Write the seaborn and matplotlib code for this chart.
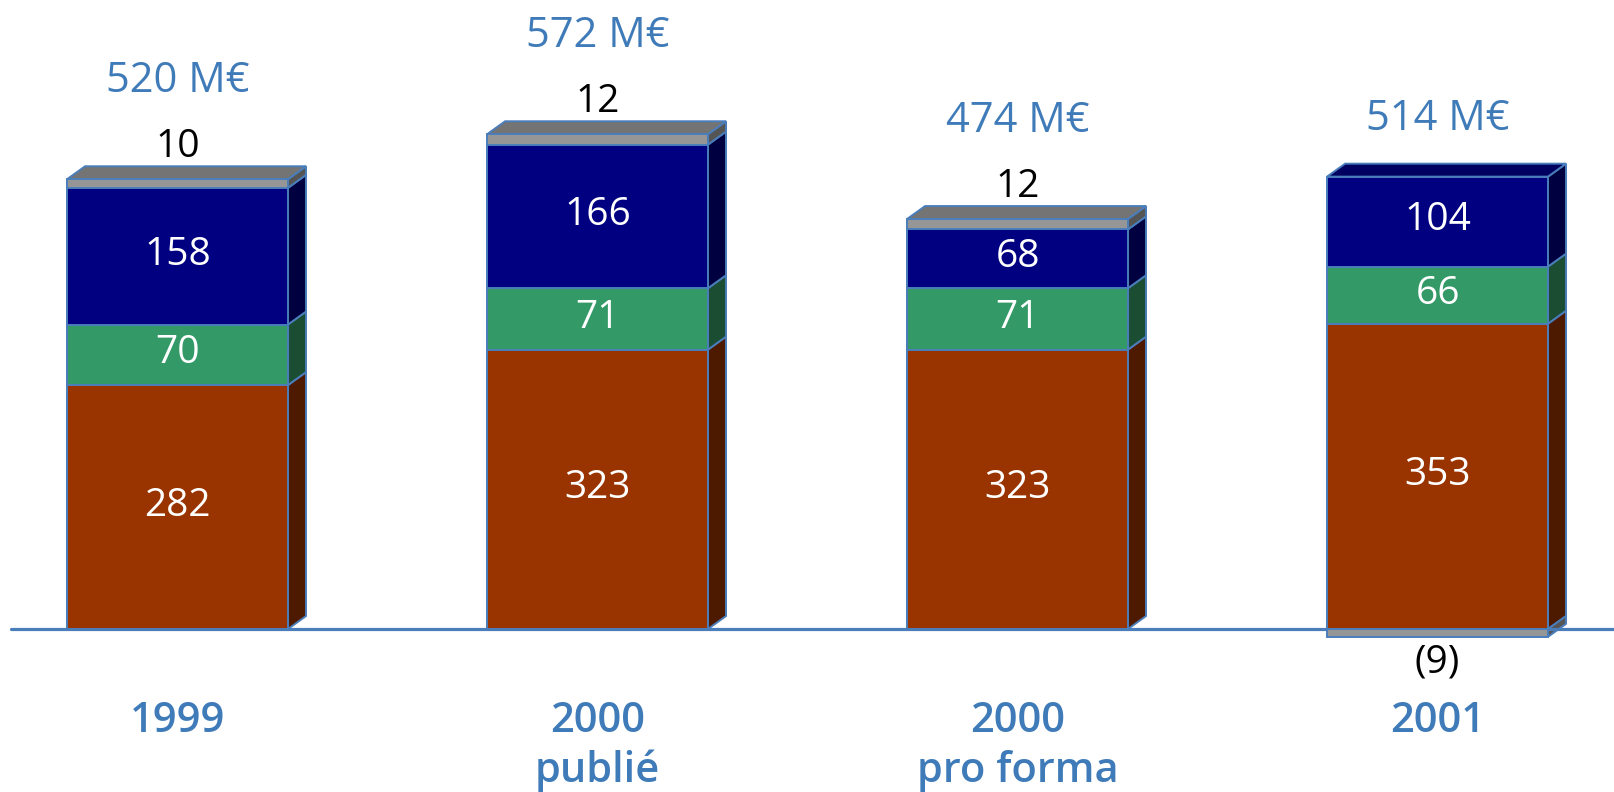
import matplotlib
matplotlib.use("Agg")
import matplotlib.pyplot as plt
import seaborn as sns
import numpy as np
import pandas as pd

# ---------------- data ----------------
categories = ["1999", "2000\npublié", "2000\npro forma", "2001"]
brown_vals = [282, 323, 323, 353]
green_vals = [70, 71, 71, 66]
navy_vals = [158, 166, 68, 104]
gray_vals = [10, 12, 12, -9]
total_labels = ["520 M€", "572 M€", "474 M€", "514 M€"]
gray_labels = ["10", "12", "12", "(9)"]

# ---------------- style ----------------
sns.set_theme(style="white")
plt.rcParams["font.family"] = ["Open Sans", "DejaVu Sans"]

BROWN, GREEN, NAVY, GRAY = "#993300", "#339966", "#000080", "#969696"
SIDE = {BROWN: "#4d1a00", GREEN: "#1b4d33", NAVY: "#000040", GRAY: "#555555"}
TOPC = {GRAY: "#747474", NAVY: "#000060"}
EDGE = "#4a7ebb"
BLUE_TXT = "#3f7bb8"

fig = plt.figure(figsize=(16.14, 7.92), dpi=100)
ax = fig.add_axes([0, 0, 1, 1])

brown = np.array(brown_vals, float)
green = np.array(green_vals, float)
navy = np.array(navy_vals, float)
gray = np.array(gray_vals, float)
gray_pos = np.clip(gray, 0, None)
gray_neg = np.clip(gray, None, 0)

c1 = brown
c2 = c1 + green
c3 = c2 + navy
c4 = c3 + gray_pos

df = pd.DataFrame({"cat": categories, "c1": c1, "c2": c2, "c3": c3, "c4": c4, "neg": gray_neg})

W = 0.526
DX = 0.043
DY = 15.0
lw = 1.4

# side faces (drawn first, behind)
for i in range(len(categories)):
    xr = i + W / 2
    segs = [(0, c1[i], BROWN), (c1[i], c2[i], GREEN), (c2[i], c3[i], NAVY)]
    if gray_pos[i] > 0:
        segs.append((c3[i], c4[i], GRAY))
    if gray_neg[i] < 0:
        segs.append((gray_neg[i], 0, GRAY))
    for y0, y1, col in segs:
        ax.fill([xr, xr + DX, xr + DX, xr], [y0, y0 + DY, y1 + DY, y1],
                facecolor=SIDE[col], edgecolor=EDGE, linewidth=lw, zorder=2)
    # top face
    top = c4[i]
    topcol = TOPC[GRAY] if gray_pos[i] > 0 else TOPC[NAVY]
    xl = i - W / 2
    ax.fill([xl, xl + DX, xr + DX, xr], [top, top + DY, top + DY, top],
            facecolor=topcol, edgecolor=EDGE, linewidth=lw, zorder=2)

# front faces via seaborn (cumulative overlay)
for col_name, color in [("c4", GRAY), ("c3", NAVY), ("c2", GREEN), ("c1", BROWN), ("neg", GRAY)]:
    sns.barplot(data=df, x="cat", y=col_name, order=categories, color=color,
                saturation=1, width=W, errorbar=None, edgecolor=EDGE,
                linewidth=lw, ax=ax, zorder=3)

# baseline
ax.axhline(0, xmin=11 / 1614, xmax=1.0, color=EDGE, linewidth=2.3, zorder=2.5)

# limits (px mapping)
ax.set_xlim(-0.4226, 3.4202)
ax.set_ylim(-188.4, 727.2)
ax.axis("off")

# segment labels
for i in range(len(categories)):
    for y0, y1, v in [(0, c1[i], brown[i]), (c1[i], c2[i], green[i]), (c2[i], c3[i], navy[i])]:
        ax.text(i, (y0 + y1) / 2 - 10, f"{int(v)}", color="white", fontsize=28,
                ha="center", va="baseline", zorder=5)
    if gray[i] > 0:
        ax.text(i, c4[i] + 26, gray_labels[i], color="black", fontsize=28,
                ha="center", va="baseline", zorder=5)
        ax.text(i, c4[i] + 101, total_labels[i], color=BLUE_TXT, fontsize=30,
                ha="center", va="baseline", zorder=5)
    else:
        ax.text(i, gray[i] - 41, gray_labels[i], color="black", fontsize=28,
                ha="center", va="baseline", zorder=5)
        ax.text(i, c4[i] + 54, total_labels[i], color=BLUE_TXT, fontsize=30,
                ha="center", va="baseline", zorder=5)
    lines = categories[i].split("\n")
    for k, line in enumerate(lines):
        ax.text(i, -119 - 58 * k, line, color=BLUE_TXT, fontsize=30,
                fontweight="semibold", ha="center", va="baseline", zorder=5)

fig.savefig("out.png", dpi=100)
